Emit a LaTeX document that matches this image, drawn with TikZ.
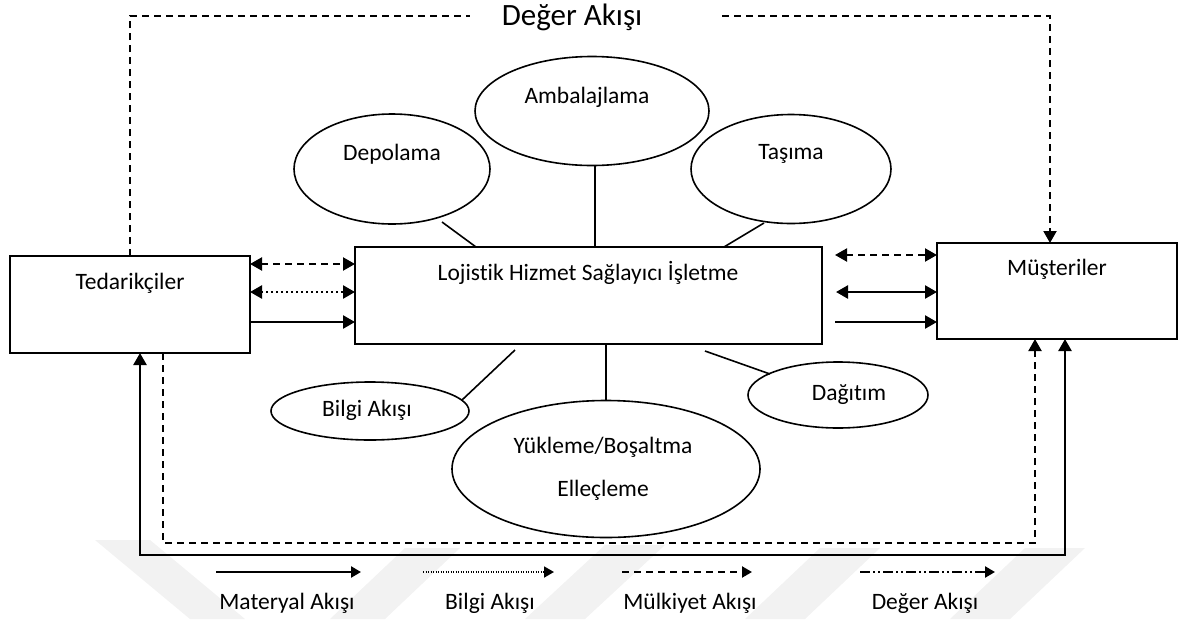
\documentclass[tikz,border=0pt]{standalone}
\usepackage{fontspec}
\setmainfont{Carlito}[Ligatures=NoCommon]
\usetikzlibrary{arrows.meta,calc,shapes.geometric}

\begin{document}
\begin{tikzpicture}[x=1pt,y=-1pt,
  every node/.style={inner sep=0pt,outer sep=0pt},
  lbl/.style={font=\fontsize{23.5}{28}\selectfont},
  ttl/.style={font=\fontsize{31}{36}\selectfont},
  box/.style={draw,line width=1.9pt,rectangle},
  bubble/.style={draw,line width=1.6pt,ellipse},
  link/.style={line width=1.6pt},
  hd/.style={-{Triangle[length=12pt,width=13pt]}},
  hh/.style={{Triangle[length=12pt,width=13pt]}-{Triangle[length=12pt,width=13pt]}},
  lhd/.style={-{Triangle[length=10pt,width=11pt]}},
  mat/.style={line width=2.4pt},
  bilg/.style={line width=2.4pt,dash pattern=on 2pt off 3pt},
  mulk/.style={line width=2.1pt,dash pattern=on 7pt off 5pt},
  dgr/.style={line width=2.4pt,dash pattern=on 10pt off 3pt on 2pt off 3pt on 2pt off 3pt},
  band/.style={fill=black!5,draw=none}
]
\useasboundingbox (0,0) rectangle (1181,619);

% faint diagonal bands in the lower part
\fill[band] (95,540) -- (150,540) -- (245,619) -- (190,619) -- cycle;
\fill[band] (330,619) -- (385,619) -- (460,548) -- (405,548) -- cycle;
\fill[band] (525,619) -- (585,619) -- (665,545) -- (605,545) -- cycle;
\fill[band] (745,619) -- (805,619) -- (880,548) -- (820,548) -- cycle;
\fill[band] (950,619) -- (1010,619) -- (1085,548) -- (1025,548) -- cycle;

% main boxes
\node[box,minimum width=240,minimum height=97] (ted) at (130,304.5) {};
\node[lbl] (tedtxt) at (130,283) {Tedarikçiler};
\node[box,minimum width=467,minimum height=97] (lhs) at (588.5,295.5) {};
\node[lbl] (lhstxt) at (588,273) {Lojistik Hizmet Sağlayıcı İşletme};
\node[box,minimum width=240,minimum height=96] (mus) at (1057,291) {};
\node[lbl] (mustxt) at (1057,269) {Müşteriler};

% activity ellipses
\node[bubble,minimum width=196,minimum height=110] (dep) at (392,169) {};
\node[lbl] (deptxt) at (392,154) {Depolama};
\node[bubble,minimum width=234,minimum height=109] (amb) at (592,111) {};
\node[lbl] (ambtxt) at (587,97) {Ambalajlama};
\node[bubble,minimum width=200,minimum height=109] (tas) at (791,169) {};
\node[lbl] (tastxt) at (791,154) {Taşıma};
\node[bubble,minimum width=198,minimum height=58] (bil) at (370,411) {};
\node[lbl] (biltxt) at (367,410) {Bilgi Akışı};
\node[bubble,minimum width=308,minimum height=137] (yuk) at (606,469) {};
\node[lbl] (yuktxta) at (603,447) {Yükleme/Boşaltma};
\node[lbl] (yuktxtb) at (603,490) {Elleçleme};
\node[bubble,minimum width=180,minimum height=66] (dag) at (838,395) {};
\node[lbl] (dagtxt) at (849,395) {Dağıtım};

% spokes to the service provider
\draw[link] ($(dep.center)+(50,53)$) -- ($(lhs.north west)+(121,0)$);
\draw[link] ($(amb.center)+(3,55)$) -- ($(lhs.north west)+(240,0)$);
\draw[link] ($(tas.center)+(-27,54)$) -- ($(lhs.north west)+(369,0)$);
\draw[link] ($(lhs.south west)+(160,6)$) -- ($(bil.center)+(92,-11)$);
\draw[link] (yuk.north) -- (yuk.north |- lhs.south);
\draw[link] ($(lhs.south west)+(350,7)$) -- ($(dag.center)+(-68,-21)$);

% flows between suppliers and provider
\draw[mulk,hh] ($(ted.north east)+(0,8)$) -- ($(lhs.north west)+(0,17)$);
\draw[bilg,hh] ($(ted.north east)+(0,36)$) -- ($(lhs.north west)+(0,45)$);
\draw[mat,hd] ($(ted.north east)+(0,66)$) -- ($(lhs.north west)+(0,75)$);

% flows between provider and customers
\draw[mulk,hh] ($(lhs.north east)+(13,8)$) -- ($(mus.north west)+(0,12)$);
\draw[mat,hh] ($(lhs.north east)+(14,45)$) -- ($(mus.north west)+(0,49)$);
\draw[mat,hd] ($(lhs.north east)+(13,75)$) -- ($(mus.north west)+(0,79)$);

% value flow across the top
\node[ttl] (title) at (572,17) {Değer Akışı};
\draw[mulk] (ted.north) |- ([xshift=-32pt]title.west |- 0,16);
\draw[mulk,hd] ([xshift=80pt]title.east |- 0,16) -| ($(mus.north west)+(113,0)$);

% return loops underneath
\draw[mat,hh] ($(ted.south west)+(130,0)$) -- ++(0,202) -| ($(mus.south west)+(128,0)$);
\draw[mulk,hd] ($(ted.south west)+(153,0)$) -- ++(0,190) -| ($(mus.south west)+(98,0)$);

% legend
\coordinate (ma) at (216,572); \coordinate (mb) at (361,572);
\coordinate (ba) at (423,572); \coordinate (bb) at (554,572);
\coordinate (ka) at (622,572); \coordinate (kb) at (752,572);
\coordinate (da) at (860,572); \coordinate (db) at (995,572);
\draw[mat,lhd] (ma) -- (mb);
\draw[line width=1.8pt,dash pattern=on 1.2pt off 1.3pt,lhd] (ba) -- (bb);
\draw[mulk,lhd] (ka) -- (kb);
\draw[dgr,lhd] (da) -- (db);
\node[lbl] (lmat) at (287,603) {Materyal Akışı};
\node[lbl] (lbil) at (490,603) {Bilgi Akışı};
\node[lbl] (lmul) at (690,603) {Mülkiyet Akışı};
\node[lbl] (lder) at (925,603) {Değer Akışı};
\end{tikzpicture}
\end{document}
